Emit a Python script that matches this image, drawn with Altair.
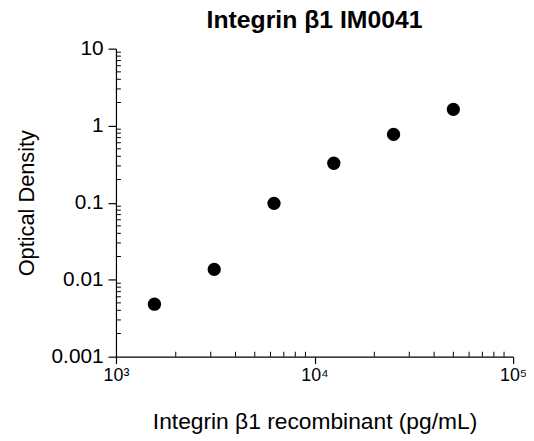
import altair as alt
import pandas as pd

# Data
conc = [1562.5, 3125, 6250, 12500, 25000, 50000]
od = [0.0048, 0.0136, 0.098, 0.325, 0.77, 1.63]

x_major = [1000, 10000, 100000]
y_major = [0.001, 0.01, 0.1, 1, 10]
x_minor = [m * d for d in (1000, 10000) for m in range(2, 10)]
y_minor = [m * d for d in (0.001, 0.01, 0.1, 1) for m in range(2, 10)]

W, H = 401, 311
FONT = "Liberation Sans"

df = pd.DataFrame({"conc": conc, "od": od})
xs = alt.Scale(type="log", domain=[1000, 100000], nice=False)
ys = alt.Scale(type="log", domain=[0.001, 10], nice=False)

points = alt.Chart(df).mark_circle(size=180, color="black", opacity=1).encode(
    x=alt.X("conc:Q", scale=xs,
            axis=alt.Axis(values=x_major, title="Integrin β1 recombinant (pg/mL)",
                          labelExpr="datum.value == 1000 ? '10³' : datum.value == 10000 ? '10⁴' : '10⁵'",
                          grid=False, tickSize=7, labelPadding=3, titlePadding=27,
                          labelFontSize=18, titleFontSize=23, labelFlush=False,
                          titleFontWeight="normal")),
    y=alt.Y("od:Q", scale=ys,
            axis=alt.Axis(values=y_major, title="Optical Density", format="~g",
                          grid=False, tickSize=8, labelPadding=5, titlePadding=13,
                          labelFontSize=21, titleFontSize=22, labelFlush=False,
                          titleFontWeight="normal")),
)

yminor = alt.Chart(pd.DataFrame({"v": y_minor})).mark_rule(color="black", strokeWidth=1).encode(
    y=alt.Y("v:Q", scale=ys), x=alt.value(0), x2=alt.value(5)
)
xminor = alt.Chart(pd.DataFrame({"v": x_minor})).mark_rule(color="black", strokeWidth=1).encode(
    x=alt.X("v:Q", scale=xs), y=alt.value(H), y2=alt.value(H - 5)
)

chart = alt.layer(points, yminor, xminor).properties(
    width=W, height=H,
    background="white",
    title=alt.TitleParams("Integrin β1 IM0041", font=FONT, fontSize=25, fontWeight="bold",
                          anchor="middle", offset=14, dy=9, color="black"),
    autosize=alt.AutoSizeParams(type="none"),
    padding={"left": 109, "top": 39, "right": 13, "bottom": 76},
).configure_view(strokeWidth=0, stroke="transparent").configure_axis(
    labelFont=FONT, titleFont=FONT, labelColor="black", titleColor="black",
    domainColor="black", tickColor="black", titleFontWeight="normal",
    domainWidth=1.2, tickWidth=1.2,
)

chart.save("out.html", embed_options={"renderer": "svg", "actions": False})
